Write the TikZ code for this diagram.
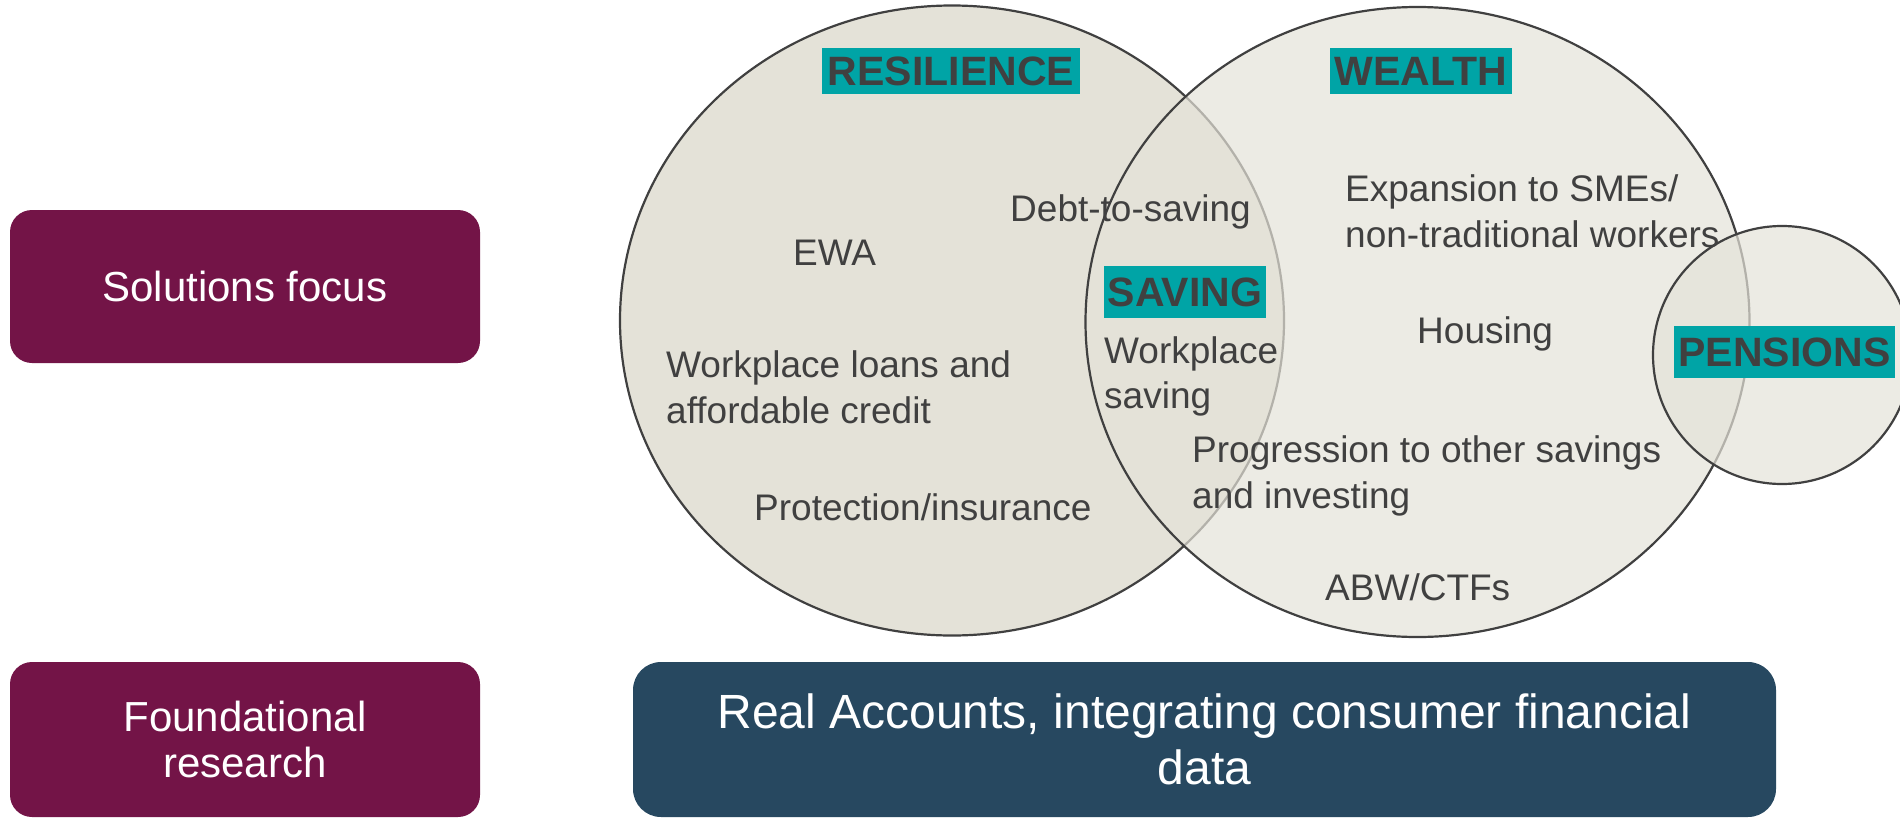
\documentclass[tikz,border=0pt]{standalone}
\usepackage{fontspec}
\setmainfont{Liberation Sans}
\usetikzlibrary{shapes.geometric}

\definecolor{beige}{RGB}{228,226,216}
\definecolor{ringline}{RGB}{64,64,64}
\definecolor{ink}{RGB}{64,64,64}
\definecolor{tealtag}{RGB}{0,164,166}
\definecolor{plum}{RGB}{115,20,71}
\definecolor{navy}{RGB}{39,72,96}

\begin{document}
\begin{tikzpicture}[x=1pt,y=-1pt,
  ring/.style={ellipse, draw=ringline, line width=2.2pt, fill=beige, inner sep=0pt},
  seethrough/.style={fill opacity=0.7, draw opacity=1},
  tag/.style={fill=tealtag, text=ink, inner sep=0pt,
    font=\fontsize{41}{41}\selectfont\bfseries, text height=29.5pt, text depth=0pt},
  item/.style={text=ink, inner sep=0pt, anchor=base west,
    font=\fontsize{37}{46}\selectfont},
  sidebox/.style={fill=plum, rounded corners=22pt, text=white, align=center,
    inner sep=0pt, minimum width=470pt, font=\fontsize{42}{46}\selectfont},
  databox/.style={fill=navy, rounded corners=28pt, text=white, align=center,
    inner sep=0pt, font=\fontsize{48}{56}\selectfont}]

\useasboundingbox (0,0) rectangle (1900,819);

% three overlapping areas
\node[ring, minimum width=664pt, minimum height=630pt] (resilience) at (952,320.5) {};
\node[ring, seethrough, minimum width=664pt, minimum height=630pt] (wealth) at (1417.5,322) {};
\node[ring, seethrough, minimum width=258pt, minimum height=258pt] (pensions) at (1782,355) {};

% area headings
\node[tag, minimum width=258pt, minimum height=46pt] (tagres) at (951,71) {RESILIENCE};
\node[tag, minimum width=182pt, minimum height=46pt] (tagwealth) at (1421,71) {WEALTH};
\node[tag, minimum width=162pt, minimum height=52pt] (tagsaving) at (1185,292) {SAVING};
\node[tag, minimum width=221pt, minimum height=52pt] (tagpens) at (1784.5,352) {PENSIONS};

% items inside the areas
\node[item] (ewa) at (793,265) {EWA};
\node[item] (debt) at (1010,221) {Debt-to-saving};
\node[item] (loansa) at (666,377) {Workplace loans and};
\node[item] (loansb) at (666,423) {affordable credit};
\node[item] (protect) at (754,520) {Protection/insurance};
\node[item] (wpsa) at (1104,363) {Workplace};
\node[item] (wpsb) at (1104,408) {saving};
\node[item] (smea) at (1345,201) {Expansion to SMEs/};
\node[item] (smeb) at (1345,247) {non-traditional workers};
\node[item] (housing) at (1417,343) {Housing};
\node[item] (proga) at (1192,462) {Progression to other savings};
\node[item] (progb) at (1192,508) {and investing};
\node[item] (abw) at (1325,600) {ABW/CTFs};

% row headings and the foundation bar
\node[sidebox, minimum height=153pt] (focus) at (245,286.5) {Solutions focus};
\node[sidebox, minimum height=155pt] (found) at (245,739.5) {Foundational\\research};
\node[databox, minimum width=1143pt, minimum height=155pt] (accounts) at (1204.5,739.5)
  {Real Accounts, integrating consumer financial\\data};
\end{tikzpicture}
\end{document}
